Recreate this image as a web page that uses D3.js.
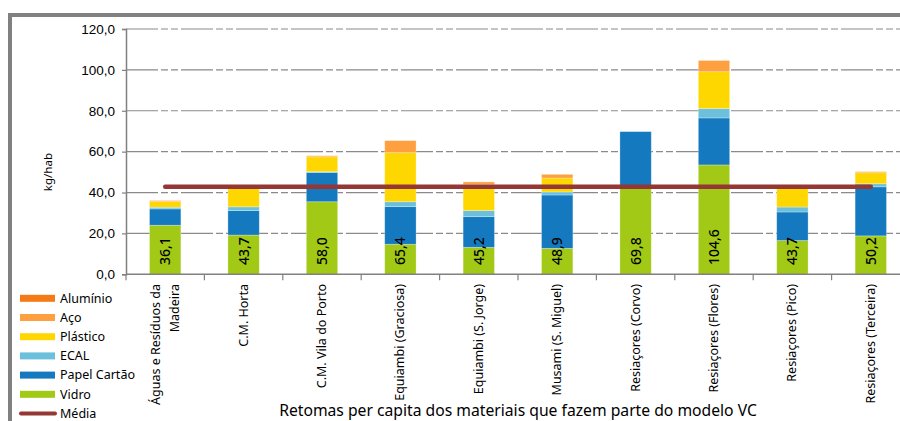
<!DOCTYPE html>
<html>
<head>
<meta charset="utf-8">
<script src="https://cdn.jsdelivr.net/npm/d3@7"></script>
<style>
  body { margin: 0; background: #fff; }
  svg { display: block; font-family: "Noto Sans", "DejaVu Sans", sans-serif; }
</style>
</head>
<body>
<div id="chart"></div>
<script>
// categories (entities)
const entidades = [
  ["Águas e Resíduos da", "Madeira"],
  ["C.M. Horta"],
  ["C.M. Vila do Porto"],
  ["Equiambi (Graciosa)"],
  ["Equiambi (S. Jorge)"],
  ["Musami (S. Miguel)"],
  ["Resiaçores (Corvo)"],
  ["Resiaçores (Flores)"],
  ["Resiaçores (Pico)"],
  ["Resiaçores (Terceira)"]
];

// kg/hab per material
const vidro       = [24.0, 19.2, 35.5, 14.7, 13.2, 12.7, 42.0, 53.5, 16.5, 18.8];
const papelCartao = [ 8.0, 12.0, 14.3, 18.4, 15.0, 26.1, 27.8, 23.0, 14.0, 24.0];
const ecal        = [ 0.8,  1.8,  0.4,  2.4,  3.0,  1.5,  0.0,  4.6,  2.4,  1.5];
const plastico    = [ 2.8, 10.7,  7.3, 24.0, 12.8,  6.8,  0.0, 18.0, 10.3,  5.4];
const aco         = [ 0.5,  0.0,  0.5,  5.9,  1.2,  1.8,  0.0,  5.5,  0.5,  0.5];
const aluminio    = [ 0.0,  0.0,  0.0,  0.0,  0.0,  0.0,  0.0,  0.0,  0.0,  0.0];
const media = 42.8;

const yTicks = [0, 20, 40, 60, 80, 100, 120];

const series = [
  { name: "Vidro", values: vidro, color: "#a2c915" },
  { name: "Papel Cartão", values: papelCartao, color: "#1479bf" },
  { name: "ECAL", values: ecal, color: "#6cc0dc" },
  { name: "Plástico", values: plastico, color: "#ffd700" },
  { name: "Aço", values: aco, color: "#ffa040" },
  { name: "Alumínio", values: aluminio, color: "#f57a16" }
];

const width = 900, height = 421;
const fmt = d => d3.format(".1f")(d).replace(".", ",");

const svg = d3.select("#chart").append("svg")
  .attr("width", width).attr("height", height);

// chart frame (cut off on the right and bottom, like the source)
svg.append("rect")
  .attr("x", 10).attr("y", 15)
  .attr("width", 940).attr("height", 460)
  .attr("fill", "none").attr("stroke", "#808080").attr("stroke-width", 4);

const x = d3.scaleBand()
  .domain(d3.range(entidades.length))
  .range([126, 910])
  .paddingInner(0.6).paddingOuter(0.3);

const y = d3.scaleLinear().domain([0, 120]).range([274.3, 29]);

// gridlines
svg.append("g").selectAll("line")
  .data(yTicks.slice(1))
  .join("line")
  .attr("x1", 126).attr("x2", 910)
  .attr("y1", d => y(d)).attr("y2", d => y(d))
  .attr("stroke", "#8a8a8a").attr("stroke-width", 1.2)
  .attr("stroke-dasharray", "32,3,7,3,7,3");

// y axis
const yAxis = svg.append("g")
  .attr("transform", "translate(126,0)")
  .call(d3.axisLeft(y).tickValues(yTicks).tickSize(4).tickPadding(7).tickFormat(fmt));
yAxis.select(".domain").attr("stroke", "#808080").attr("stroke-width", 1.5);
yAxis.selectAll(".tick line").attr("stroke", "#808080").attr("stroke-width", 1.2);
yAxis.selectAll("text").attr("font-size", 13.5).attr("fill", "#000");

svg.append("text")
  .attr("transform", `translate(52,${y(50)}) rotate(-90)`)
  .attr("text-anchor", "middle")
  .attr("font-size", 11.5)
  .text("kg/hab");

// stacked bars
const stack = d3.stack()
  .keys(series.map((s, i) => i))
  .value((d, k) => series[k].values[d]);
const stacked = stack(d3.range(entidades.length));

svg.append("g").selectAll("g")
  .data(stacked)
  .join("g")
  .attr("fill", (d, i) => series[i].color)
  .selectAll("rect")
  .data(d => d.map((v, j) => ({ v, j })))
  .join("rect")
  .attr("x", d => x(d.j))
  .attr("width", x.bandwidth())
  .attr("y", d => y(d.v[1]))
  .attr("height", d => y(d.v[0]) - y(d.v[1]))
  .attr("stroke", "#ffffff").attr("stroke-opacity", 0.35).attr("stroke-width", 0.8);

// bottom axis (category ticks)
const xEdge = d3.scaleLinear().domain([0, entidades.length]).range([126, 910]);
svg.append("line")
  .attr("x1", 126).attr("x2", 910)
  .attr("y1", y(0)).attr("y2", y(0))
  .attr("stroke", "#808080").attr("stroke-width", 1.5);
svg.append("g").selectAll("line")
  .data(d3.range(entidades.length + 1))
  .join("line")
  .attr("x1", d => xEdge(d)).attr("x2", d => xEdge(d))
  .attr("y1", y(0)).attr("y2", y(0) + 6)
  .attr("stroke", "#808080").attr("stroke-width", 1.2);

// category labels
const catG = svg.append("g").selectAll("text")
  .data(entidades)
  .join("text")
  .attr("transform", (d, i) => `translate(${x(i) + x.bandwidth() / 2},284) rotate(-90)`)
  .attr("text-anchor", "end")
  .attr("font-size", 12.5);
catG.selectAll("tspan")
  .data(d => d.map((t, k) => ({ t, k, n: d.length })))
  .join("tspan")
  .attr("x", 0)
  .attr("y", d => (d.k - (d.n - 1) / 2) * 19 + 4)
  .text(d => d.t);

// average line
svg.append("line")
  .attr("x1", x(0) + x.bandwidth() / 2)
  .attr("x2", x(entidades.length - 1) + x.bandwidth() / 2)
  .attr("y1", y(media)).attr("y2", y(media))
  .attr("stroke", "#953735").attr("stroke-width", 4.5)
  .attr("stroke-linecap", "round");

// total labels
const totals = d3.range(entidades.length).map(i => d3.sum(series, s => s.values[i]));
svg.append("g").selectAll("text")
  .data(totals)
  .join("text")
  .attr("transform", (d, i) => `translate(${x(i) + x.bandwidth() / 2 + 5},265) rotate(-90)`)
  .attr("text-anchor", "start")
  .attr("font-size", 14)
  .attr("font-weight", 500)
  .attr("fill", "#000")
  .text(d => fmt(d));

// legend
const legendItems = series.slice().reverse().map(s => ({ name: s.name, color: s.color, type: "bar" }))
  .concat([{ name: "Média", color: "#953735", type: "line" }]);
const lg = svg.append("g").selectAll("g")
  .data(legendItems)
  .join("g")
  .attr("transform", (d, i) => `translate(20,${298.3 + i * 19.2})`);
lg.filter(d => d.type === "bar").append("rect")
  .attr("x", 0).attr("y", -3.5).attr("width", 35).attr("height", 7)
  .attr("fill", d => d.color);
lg.filter(d => d.type === "line").append("line")
  .attr("x1", 1).attr("x2", 35).attr("y1", 0).attr("y2", 0)
  .attr("stroke", d => d.color).attr("stroke-width", 4).attr("stroke-linecap", "round");
lg.append("text")
  .attr("x", 40).attr("y", 0).attr("dy", "0.35em")
  .attr("font-size", 12.5)
  .text(d => d.name);

// x title
svg.append("text")
  .attr("x", 518).attr("y", 416)
  .attr("text-anchor", "middle")
  .attr("font-size", 15.7)
  .text("Retomas per capita dos materiais que fazem parte do modelo VC");
</script>
</body>
</html>
